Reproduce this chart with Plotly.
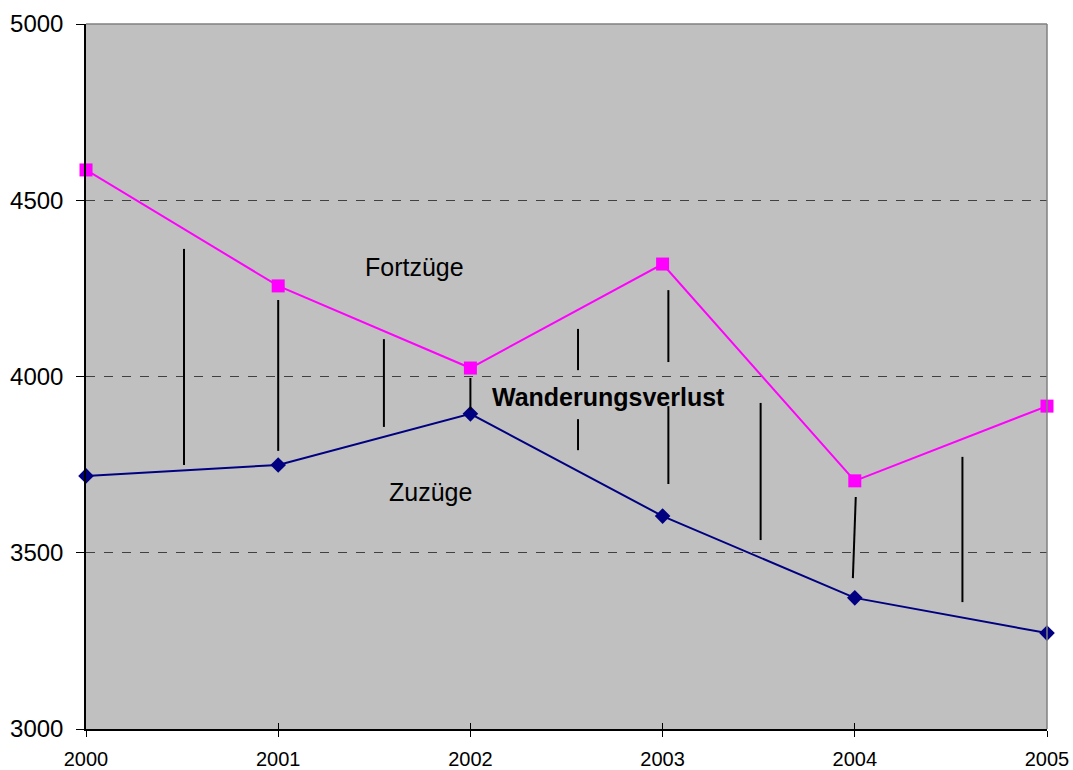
import plotly.graph_objects as go

years = [2000, 2001, 2002, 2003, 2004, 2005]
fortzuege = [4586, 4257, 4024, 4319, 3704, 3916]
zuzuege = [3718, 3749, 3894, 3604, 3372, 3272]

# difference hatch segments (x0, y0, x1, y1) in data units
seg_x0 = [2000.51, 2001.0, 2001.55, 2002.0, 2002.56, 2002.56, 2003.03, 2003.03, 2003.51, 2004.005, 2004.56]
seg_y0 = [4362, 4217, 4106, 3996, 4135, 3879, 4245, 3916, 3925, 3658, 3772]
seg_x1 = [2000.51, 2001.0, 2001.55, 2002.0, 2002.56, 2002.56, 2003.03, 2003.03, 2003.51, 2003.99, 2004.56]
seg_y1 = [3749, 3789, 3857, 3905, 4018, 3791, 4041, 3695, 3536, 3428, 3360]

labels = ["Fortzüge", "Wanderungsverlust", "Zuzüge"]
label_x = [2001.71, 2002.72, 2001.79]
label_y = [4311, 3942, 3672]
label_bold = [False, True, False]

FONT = "Liberation Sans, Arial, sans-serif"

fig = go.Figure()

fig.add_trace(go.Scatter(
    x=years, y=fortzuege, mode="lines+markers", name="Fortzüge",
    line=dict(color="#FF00FF", width=2),
    marker=dict(symbol="square", size=13, color="#FF00FF"),
    cliponaxis=False,
))
fig.add_trace(go.Scatter(
    x=years, y=zuzuege, mode="lines+markers", name="Zuzüge",
    line=dict(color="#000080", width=2),
    marker=dict(symbol="diamond", size=12, color="#000080"),
    cliponaxis=False,
))

for x0, y0, x1, y1 in zip(seg_x0, seg_y0, seg_x1, seg_y1):
    fig.add_shape(type="line", x0=x0, y0=y0, x1=x1, y1=y1, xref="x", yref="y",
                  line=dict(color="black", width=2), layer="above")

for t, x, y, b in zip(labels, label_x, label_y, label_bold):
    fig.add_annotation(x=x, y=y, text=f"<b>{t}</b>" if b else t, showarrow=False,
                       font=dict(family=FONT, size=25, color="black"))

# top and right border (gray)
fig.add_shape(type="line", xref="paper", yref="paper", x0=0, x1=1, y0=1, y1=1,
              line=dict(color="#808080", width=1.5))
fig.add_shape(type="line", xref="paper", yref="paper", x0=1, x1=1, y0=0, y1=1,
              line=dict(color="#808080", width=1.5))

fig.update_layout(
    width=1073, height=770,
    margin=dict(l=86, r=26, t=24, b=41, autoexpand=False),
    paper_bgcolor="white",
    plot_bgcolor="#C0C0C0",
    showlegend=False,
    font=dict(family=FONT, color="black"),
    xaxis=dict(
        range=[2000, 2005], tickmode="array", tickvals=years,
        ticktext=[str(y) for y in years],
        showgrid=False, zeroline=False,
        showline=True, linecolor="black", linewidth=1.5,
        ticks="outside", ticklen=6, tickcolor="black",
        tickfont=dict(size=20, family=FONT),
        ticklabelstandoff=5,
    ),
    xaxis2=dict(
        overlaying="x", matches="x", range=[2000, 2005], tickmode="array", tickvals=years,
        showticklabels=False, showgrid=False, zeroline=False, showline=False,
        ticks="inside", ticklen=6, tickcolor="black", side="bottom",
    ),
    yaxis=dict(
        range=[3000, 5000], tickvals=[3000, 3500, 4000, 4500, 5000],
        showgrid=True, gridcolor="#404040", griddash="dash", gridwidth=1,
        zeroline=False,
        showline=True, linecolor="black", linewidth=1.5,
        ticks="outside", ticklen=8, tickcolor="black",
        tickfont=dict(size=24, family=FONT),
        ticklabelstandoff=8,
    ),
)
# invisible trace to activate the overlay axis with inside ticks
fig.add_trace(go.Scatter(x=[years[0]], y=[fortzuege[0]], xaxis="x2", mode="markers",
                         marker=dict(opacity=0), hoverinfo="skip", showlegend=False))

fig.write_html("out.html", config={"displayModeBar": False},
               post_script="document.body.style.margin='0';")
